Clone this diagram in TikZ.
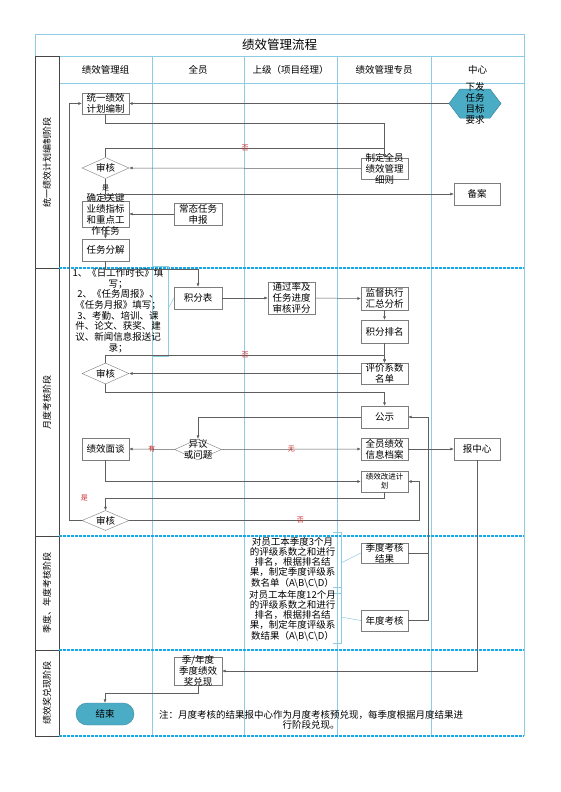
\documentclass[tikz,border=0pt]{standalone}
\usepackage{fontspec}
\newfontfamily\cjk{Noto Sans CJK SC}
\usetikzlibrary{shapes.geometric,arrows.meta}
\definecolor{lane}{RGB}{140,205,228}
\definecolor{stagedash}{RGB}{20,170,235}
\definecolor{stagecol}{RGB}{70,70,70}
\definecolor{boxgray}{RGB}{125,125,125}
\definecolor{wire}{RGB}{95,95,95}
\definecolor{endfill}{RGB}{75,172,198}
\definecolor{enddraw}{RGB}{60,135,160}
\definecolor{flagred}{RGB}{205,40,40}
\begin{document}
\begin{tikzpicture}[x=1pt,y=-1pt,
  every node/.style={font=\cjk\fontsize{9.5}{11}\selectfont},
  box/.style={draw=boxgray, fill=white, minimum width=47pt, minimum height=22pt, inner sep=0pt, align=center},
  check/.style={diamond, draw=boxgray, fill=white, minimum width=47pt, minimum height=21pt, inner sep=0pt, aspect=2.2, align=center},
  boxtext/.style={label={[align=center]center:{#1}}},
  flow/.style={draw=wire, line width=0.5pt, ->, >={Latex[length=3.5pt,width=3pt]}},
  wireline/.style={draw=wire, line width=0.5pt},
  flag/.style={text=flagred, font=\cjk\fontsize{7}{8}\selectfont, inner sep=0.5pt},
  bracket/.style={draw=lane, line width=0.5pt},
  memo/.style={align=center, inner sep=0pt, font=\cjk\fontsize{9.5}{10.7}\selectfont}]

    % Page
    \fill[white] (0,0) rectangle (560,792);
    \useasboundingbox (0,0) rectangle (560,792);
    % Title and header rows
    \draw[lane, line width=0.6pt] (35,56) -- (35,34) -- (524,34) -- (524,736);
    \draw[lane, line width=0.6pt] (35,56) -- (524,56);
    \draw[lane, line width=0.6pt] (59,83) -- (524,83);
    \foreach \x in {152,244,337,431}
      \draw[lane, line width=0.6pt] (\x,56) -- (\x,736);
    % Stage column
    \draw[stagecol, line width=0.8pt] (35,56) rectangle (59,736);
    \foreach \y in {268,536,650}
      \draw[stagecol, line width=0.8pt] (35,\y) -- (59,\y);
    \foreach \y in {268,536,650,736}
      \draw[stagedash, line width=1.2pt, dash pattern=on 2.5pt off 1.5pt] (59,\y) -- (524,\y);

    \node (title) at (279.5,45) {\fontsize{12.5}{14}\selectfont 绩效管理流程};
    \foreach \x/\t [count=\i] in {105.5/绩效管理组, 198/全员, 290.5/上级（项目经理）, 384/绩效管理专员, 477.5/中心}
      \node (head\i) at (\x,69.5) {\t};
    \foreach \y/\t [count=\i] in {162/统一绩效计划编制阶段, 402/月度考核阶段, 593/季度、年度考核阶段, 693/绩效奖兑现阶段}
      \node[rotate=90, font=\cjk\fontsize{9}{10}\selectfont] (stage\i) at (47,\y) {\t};

    % Brackets of the notes
    \draw[bracket] (152,266) -- (168,266) -- (168,356) -- (152,356);
    \draw[bracket] (333,532) -- (341,532) -- (341,593) -- (333,593);
    \draw[bracket] (333,587) -- (341,587) -- (341,643) -- (333,643);
    \coordinate (tip1) at (168,309);
    \coordinate (tip2) at (341,563);
    \coordinate (tip3) at (341,617);

    % Stage 1
    \fill[endfill, draw=enddraw, line width=0.5pt] (449,103.5) -- (460,89) -- (490,89) -- (501,103.5) -- (490,118) -- (460,118) -- cycle;
    \node[minimum width=52pt, minimum height=29pt, inner sep=0pt, boxtext={下发\\任务\\目标\\要求}] (xiafa) at (475,103.5) {};
    \node[box, minimum height=21pt] (tongyi) at (105.5,103.5) {统一绩效\\计划编制};
    \node[box, minimum height=21pt, boxtext={制定全员\\绩效管理\\细则}] (zhiding) at (384.5,168.5) {};
    \node[check] (shenhe1) at (105.5,168) {审核};
    \node[box, minimum width=46pt] (beian) at (477,194) {备案};
    \node[box, minimum height=26pt, boxtext={确定关键\\业绩指标\\和重点工\\作任务}] (queding) at (105.5,214) {};
    \node[box, minimum width=48pt] (changtai) at (198,214) {常态任务\\申报};
    \node[box] (fenjie) at (105.5,250) {任务分解};

    % Stage 2
    \node[memo] (note1) at (118,310.5) {1、《日工作时长》填\\写；\\2、《任务周报》、\\《任务月报》填写；\\3、考勤、培训、课\\件、论文、获奖、建\\议、新闻信息报送记\\录；};
    \node[box, minimum width=48pt] (jifen) at (198,298) {积分表};
    \node[box, minimum height=32pt] (tongguo) at (291.5,298) {通过率及\\任务进度\\审核评分};
    \node[box, minimum height=23pt] (jiandu) at (384.5,298.5) {监督执行\\汇总分析};
    \node[box, minimum height=23pt] (paiming) at (384.5,331.5) {积分排名};
    \node[box, minimum height=21pt] (pingjia) at (384.5,373.5) {评价系数\\名单};
    \node[check] (shenhe2) at (105.5,373.5) {审核};
    \node[box] (gongshi) at (384.5,417) {公示};
    \node[check, boxtext={异议\\或问题}] (yiyi) at (198,449.5) {};
    \node[box] (miantan) at (105.5,449) {绩效面谈};
    \node[box] (dangan) at (384.5,449) {全员绩效\\信息档案};
    \node[box, minimum width=46pt] (baozx) at (477,449) {报中心};
    \node[box, minimum height=21pt, font=\cjk\fontsize{7.5}{9}\selectfont] (gaijin) at (384.5,481.5) {绩效改进计\\划};
    \node[check, minimum height=20pt] (shenhe3) at (105.5,520.5) {审核};

    % Stage 3
    \node[memo, font=\cjk\fontsize{9.5}{10.3}\selectfont] (note2) at (292.5,562.5) {对员工本季度3个月\\的评级系数之和进行\\排名，根据排名结\\果，制定季度评级系\\数名单（A\textbackslash B\textbackslash C\textbackslash D）};
    \node[memo, font=\cjk\fontsize{9.5}{10.3}\selectfont] (note3) at (292.5,615.5) {对员工本年度12个月\\的评级系数之和进行\\排名，根据排名结\\果，制定年度评级系\\数结果（A\textbackslash B\textbackslash C\textbackslash D）};
    \node[box, minimum height=20pt] (jidu) at (384.5,553) {季度考核\\结果};
    \node[box, minimum height=21pt] (niandu) at (384.5,620.5) {年度考核};

    % Stage 4
    \node[box, minimum width=48pt, minimum height=28pt, boxtext={季/年度\\季度绩效\\奖兑现}] (jiangli) at (198,671) {};
    \node[draw=enddraw, fill=endfill, rounded corners=11pt, minimum width=58pt, minimum height=22pt] (jieshu) at (105,714) {结束};
    \node[memo] (zhu) at (311,720) {注：月度考核的结果报中心作为月度考核预兑现，每季度根据月度结果进\\行阶段兑现。};

    % Connectors, stage 1
    \draw[flow] (xiafa.west) -- (tongyi.east);
    \draw[flow] (tongyi.south) -- ++(0,9) -| (zhiding.north);
    \draw[flow] (zhiding.west) -- (shenhe1.east);
    \draw[flow] (shenhe1.north) -- ++(0,-9) -| (zhiding.north) node[flag, pos=0.25] {否};
    \draw[flow] (shenhe1.south) -- (queding.north) node[flag, text=black, pos=0.4] {是};
    \draw[flow] (shenhe1.south |- beian.west) -- (beian.west);
    \draw[flow] (changtai.west) -- (queding.east);
    \draw[flow] (queding.south) -- (fenjie.north);
    \draw[flow] (fenjie.south) -- ++(0,8) -| (jifen.north);
    \draw[bracket] (tip1) -- (jifen.west);

    % Connectors, stage 2
    \draw[flow] (jifen.east) -- (tongguo.west);
    \draw[flow] (tongguo.east) -- (jiandu.west);
    \draw[flow] (jiandu.south) -- (paiming.north);
    \draw[flow] (paiming.south) -- (pingjia.north);
    \draw[flow] (pingjia.west) -- (shenhe2.east);
    \draw[flow] (shenhe2.north) -- ++(0,-8) -| (pingjia.north) node[flag, pos=0.25] {否};
    \draw[flow] (shenhe2.south) -- ++(0,8) -| (gongshi.north);
    \draw[flow] (gongshi.west) -| (yiyi.north);
    \draw[flow] (yiyi.west) -- (miantan.east) node[flag, midway] {有};
    \draw[flow] (yiyi.east) -- (dangan.west) node[flag, midway] {无};
    \draw[flow] (dangan.east) -- (baozx.west);
    \draw[flow] (miantan.south) |- (gaijin.west);
    \draw[flow] (gaijin.south) -- ++(0,6) -| (shenhe3.north) node[flag, pos=0.5, left=17pt] {是};
    \draw[flow] (shenhe3.east) -- ++(290,0) node[flag, pos=0.59] {否} |- (gaijin.east);
    \draw[flow] (shenhe3.west) -- ++(-13,0) |- (tongyi.west);

    % Connectors, stages 3 and 4
    \draw[bracket] (tip2) -- (jidu.west);
    \draw[bracket] (tip3) -- (niandu.west);
    \draw[wireline] (jidu.east) -- ++(20,0);
    \draw[flow] (niandu.east) -- ++(20,0) |- (gongshi.east);
    \draw[flow] (baozx.south) |- (jiangli.east);
    \draw[flow] (jiangli.south) -- ++(0,8) -| (jieshu.north);
  \end{tikzpicture}
\end{document}
